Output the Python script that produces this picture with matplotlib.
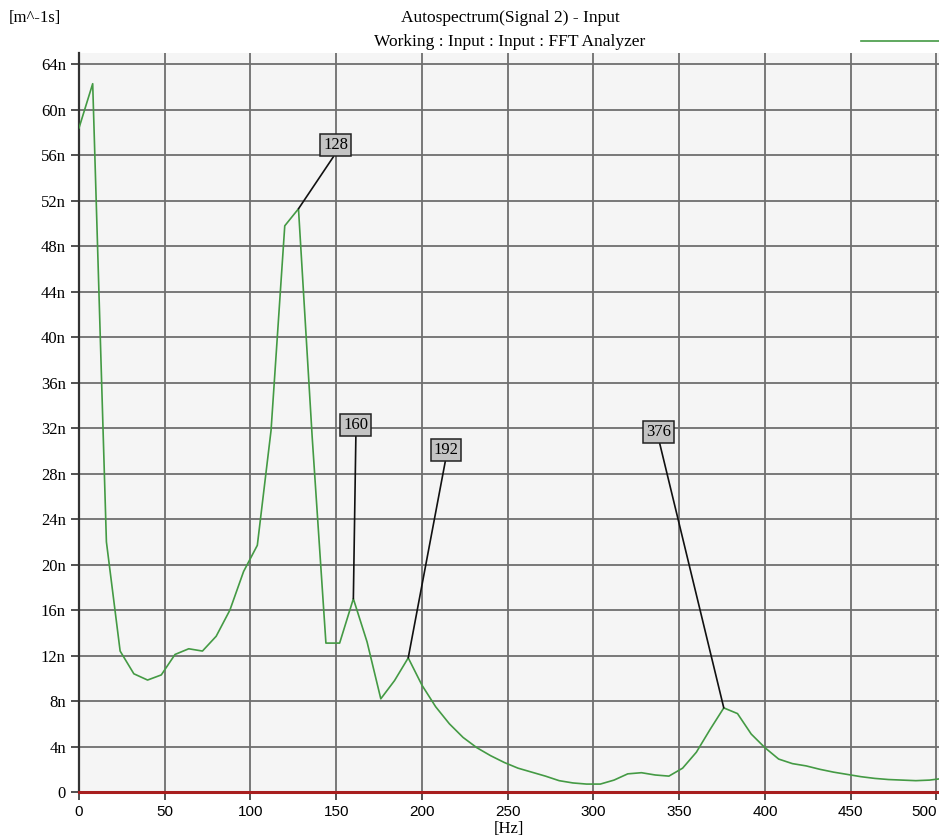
import matplotlib
matplotlib.use("Agg")
import matplotlib.pyplot as plt
from matplotlib.ticker import FuncFormatter, MultipleLocator

# autospectrum, [Hz] and [n m^-1s]
freq_hz = [0, 8, 16, 24, 32, 40, 48, 56, 64, 72, 80, 88, 96, 104, 112, 120,
           128, 136, 144, 152, 160, 168, 176, 184, 192, 200, 208, 216, 224,
           232, 240, 248, 256, 264, 272, 280, 288, 296, 304, 312, 320, 328,
           336, 344, 352, 360, 368, 376, 384, 392, 400, 408, 416, 424, 432,
           440, 448, 456, 464, 472, 480, 488, 496, 504]
spectrum_n = [58.4, 62.3, 22.0, 12.4, 10.4, 9.85, 10.3, 12.1, 12.6, 12.4,
              13.7, 16.0, 19.4, 21.7, 31.8, 49.8, 51.3, 31.2, 13.1, 13.1,
              17.0, 13.2, 8.2, 9.8, 11.8, 9.4, 7.5, 6.0, 4.8, 3.9, 3.2, 2.6,
              2.1, 1.75, 1.4, 1.0, 0.8, 0.7, 0.7, 1.05, 1.6, 1.7, 1.5, 1.4,
              2.1, 3.5, 5.5, 7.4, 6.9, 5.1, 3.9, 2.9, 2.5, 2.3, 2.0, 1.75,
              1.55, 1.35, 1.2, 1.1, 1.05, 1.0, 1.05, 1.2]

# peak markers: label, peak frequency, label box position
marker_labels = ["128", "160", "192", "376"]
marker_freqs = [128, 160, 192, 376]
marker_text_x = [149.8, 161.5, 214.0, 338.1]
marker_text_y = [56.9, 32.3, 30.1, 31.7]

serif = "Liberation Serif"
sans = "Liberation Sans"

fig = plt.figure(figsize=(9.39, 8.4), dpi=100)
ax = fig.add_axes([0.0841, 0.0571, 0.9159, 0.8798])
ax.set_facecolor("#f5f5f5")

values = [v * 1e-9 for v in spectrum_n]
line, = ax.plot(freq_hz, values, color="#449a44", lw=1.2, zorder=3)
ax.axhline(0, color="#a81e1e", lw=2.2, zorder=4, clip_on=False)

for lab, f, tx, ty in zip(marker_labels, marker_freqs, marker_text_x, marker_text_y):
    peak = values[freq_hz.index(f)]
    ax.annotate(
        lab,
        xy=(f, peak),
        xytext=(tx, ty * 1e-9),
        ha="center",
        va="center",
        fontsize=12,
        family=serif,
        bbox=dict(boxstyle="square,pad=0.18", fc="#c4c4c4", ec="#222222", lw=1.1),
        arrowprops=dict(arrowstyle="-", color="#111111", lw=1.2,
                        relpos=(0.5, 0.0), shrinkA=0, shrinkB=0),
        zorder=5,
    )

ax.set_xlim(0, 501.5)
ax.set_ylim(0, 65e-9)
ax.xaxis.set_major_locator(MultipleLocator(50))
ax.yaxis.set_major_locator(MultipleLocator(4e-9))


def nano(v, pos):
    n = int(round(v * 1e9))
    return "0" if n == 0 else f"{n}n"


ax.yaxis.set_major_formatter(FuncFormatter(nano))
ax.grid(True, color="#6e6e6e", lw=1.3, zorder=1)
ax.set_axisbelow(True)

for side in ["top", "right"]:
    ax.spines[side].set_visible(False)
ax.spines["left"].set_color("#333333")
ax.spines["left"].set_linewidth(1.6)
ax.spines["bottom"].set_color("#333333")
ax.tick_params(axis="both", color="#333333", length=6, width=1.2)
for t in ax.get_yticklabels():
    t.set_family(serif)
    t.set_fontsize(12)
xlabels = ax.get_xticklabels()
for t in xlabels:
    t.set_family(sans)
    t.set_fontsize(11)
fig.canvas.draw()
# the last label sits at the right edge, pulled inside like the original
last = [t for t in ax.get_xticklabels() if t.get_text() == "500"]
for t in last:
    t.set_horizontalalignment("right")

ax.set_xlabel("[Hz]", family=serif, fontsize=12, labelpad=1)

fig.text(0.009, 0.988, "[m^-1s]", family=serif, fontsize=12, va="top", ha="left")
fig.text(0.543, 0.988, "Autospectrum(Signal 2) - Input", family=serif,
         fontsize=12.5, va="top", ha="center")
fig.text(0.543, 0.959, "Working : Input : Input : FFT Analyzer", family=serif,
         fontsize=12.5, va="top", ha="center")

fig.legend([line], [""], loc="center right", bbox_to_anchor=(1.0, 1 - 42 / 840),
           frameon=False, handlelength=5.6, handletextpad=0, borderpad=0,
           borderaxespad=0, fontsize=10)

fig.savefig("out.png", dpi=100, facecolor="white")
